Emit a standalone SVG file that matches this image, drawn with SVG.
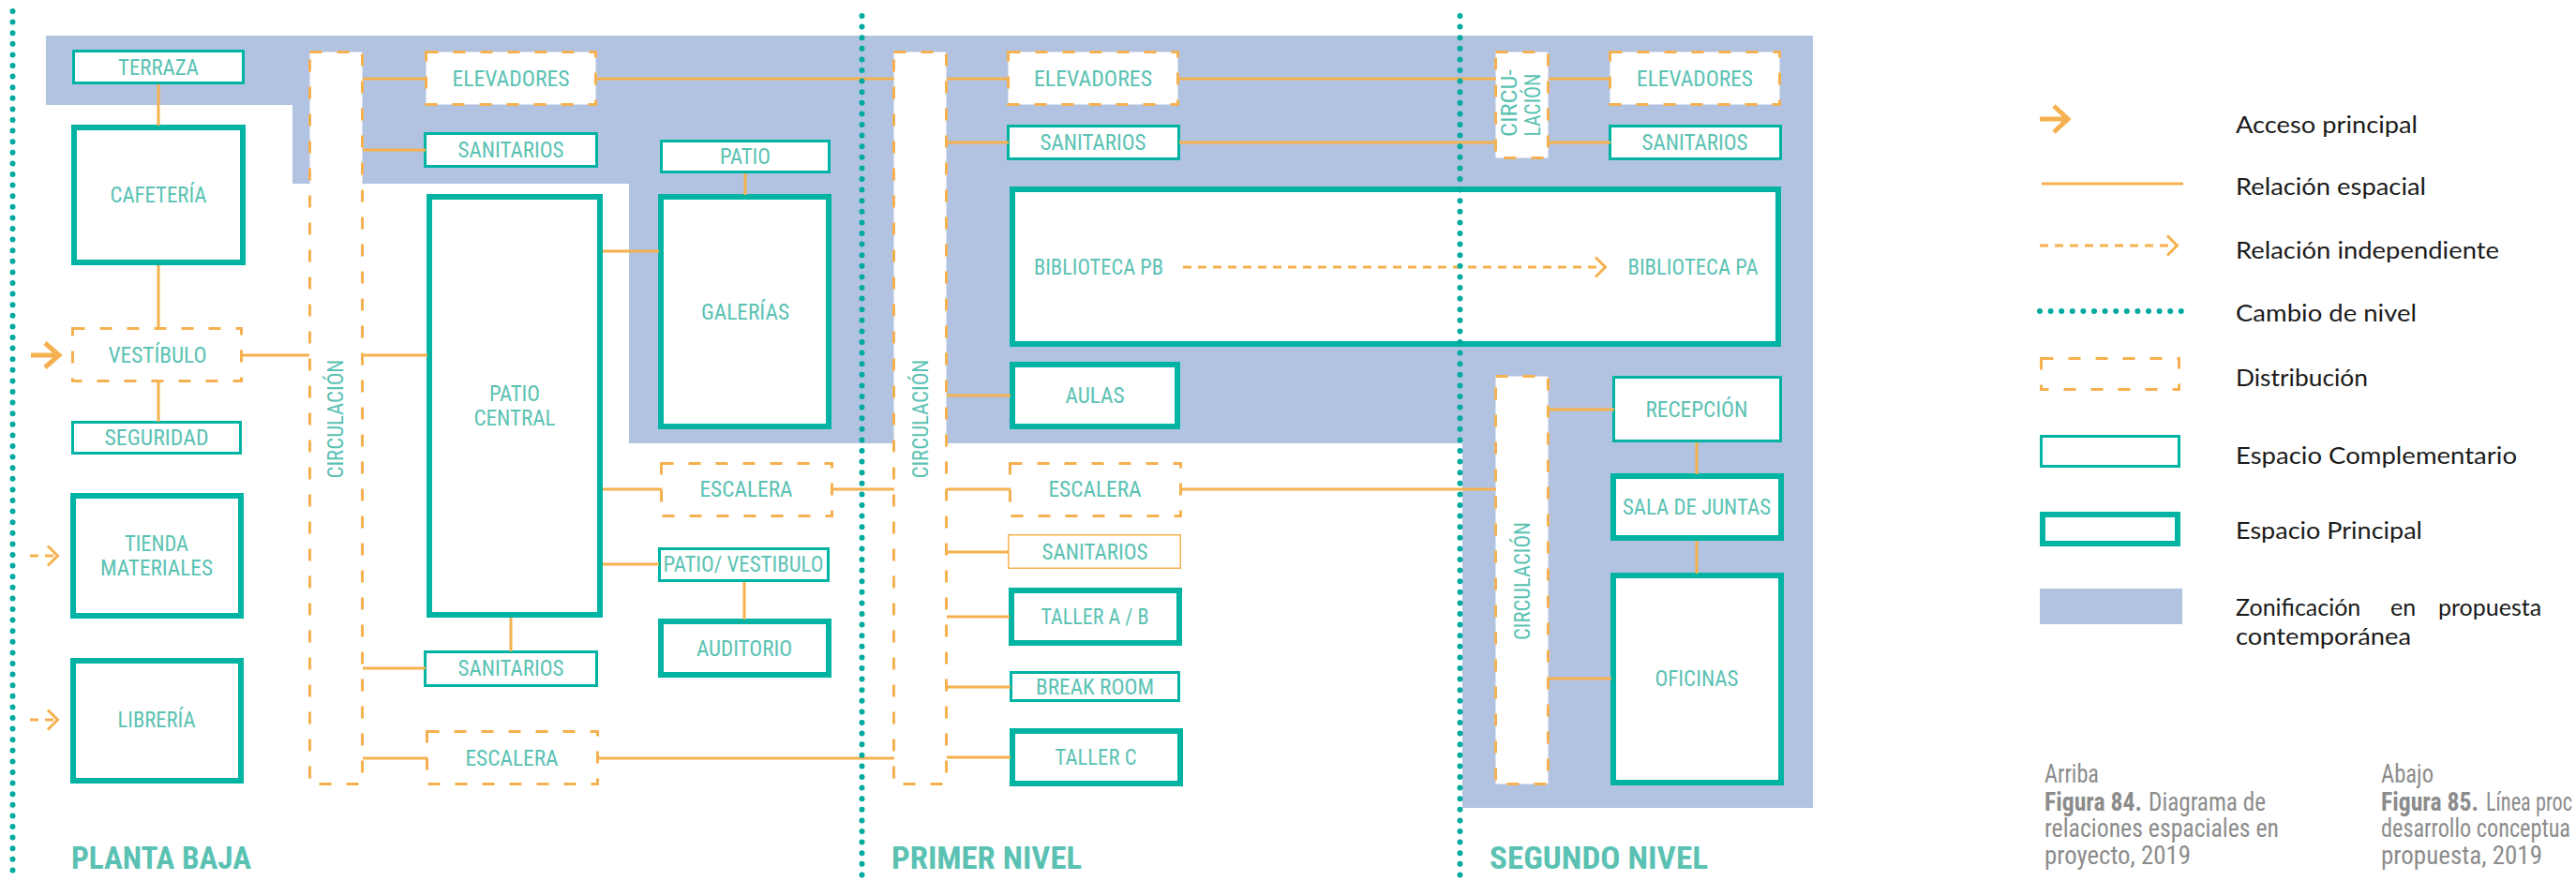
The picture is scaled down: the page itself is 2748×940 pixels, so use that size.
<svg xmlns="http://www.w3.org/2000/svg" width="2748" height="940" viewBox="0 0 2748 940">
<style>
.zone{fill:#b2c3e1}
.box{fill:#fff;stroke:#00b3a3;stroke-width:3}
.main{fill:#fff;stroke:#00b3a3;stroke-width:6}
.obox{fill:#fff;stroke:#f5b14f;stroke-width:1.5}
.dist{fill:#fff;stroke:#f5b14f;stroke-width:3;stroke-dasharray:13 16}
.lbl{font-family:"Roboto Condensed",Roboto,"Liberation Sans",sans-serif;font-size:24px;fill:#5bc2b3;text-anchor:middle}
.ttl{font-family:"Roboto Condensed",Roboto,"Liberation Sans",sans-serif;font-size:33px;font-weight:700;fill:#5bc2b3}
.rel{stroke:#f5b14f;stroke-width:3;fill:none}
.ind{stroke:#f5b14f;stroke-width:3;fill:none;stroke-dasharray:9 7}
.acc{stroke:#f5b14f;stroke-width:5;fill:none}
.lvl{stroke:#00aa9e;stroke-width:6;stroke-linecap:round;stroke-dasharray:0 11.6;fill:none}
.leg{font-family:Lato,"Open Sans","Liberation Sans",sans-serif;font-size:25px;fill:#1a1a1a}
.cap{font-family:"Roboto Condensed",Roboto,"Liberation Sans",sans-serif;font-size:27px;fill:#8c8c8c}
.capb{font-family:"Roboto Condensed",Roboto,"Liberation Sans",sans-serif;font-size:27px;font-weight:700;fill:#8c8c8c}
</style>
<defs>
<marker id="chev" markerUnits="userSpaceOnUse" markerWidth="16" markerHeight="24" refX="13" refY="12" orient="auto">
<path d="M2,1.5 L12.5,12 L2,22.5" fill="none" stroke="#f5b14f" stroke-width="3"/>
</marker>
</defs>

<polygon id="zonificacion" class="zone" points="49,38 1934,38 1934,862 1560,862 1560,473 671,473 671,196 312,196 312,112 49,112"/>

<g id="planta-baja">
<g id="terraza"><rect class="box" x="78.5" y="54.5" width="181" height="34"/><text class="lbl" x="169" y="80" textLength="86" lengthAdjust="spacingAndGlyphs">TERRAZA</text></g>
<g id="cafeteria"><rect class="main" x="79" y="136" width="180" height="144"/><text class="lbl" x="169" y="216" textLength="103" lengthAdjust="spacingAndGlyphs">CAFETERÍA</text></g>
<g id="vestibulo"><rect class="dist" x="77.5" y="350.5" width="180" height="56"/><text class="lbl" x="168" y="387" textLength="105" lengthAdjust="spacingAndGlyphs">VESTÍBULO</text></g>
<g id="seguridad"><rect class="box" x="77.5" y="450.5" width="179" height="33"/><text class="lbl" x="167" y="475" textLength="111" lengthAdjust="spacingAndGlyphs">SEGURIDAD</text></g>
<g id="tienda"><rect class="main" x="78" y="529" width="179" height="128"/><text class="lbl" x="167" y="588" textLength="68" lengthAdjust="spacingAndGlyphs">TIENDA</text><text class="lbl" x="167" y="614" textLength="120" lengthAdjust="spacingAndGlyphs">MATERIALES</text></g>
<g id="libreria"><rect class="main" x="78" y="705" width="179" height="128"/><text class="lbl" x="167" y="776" textLength="83" lengthAdjust="spacingAndGlyphs">LIBRERÍA</text></g>
<g id="circulacion-pb"><rect class="dist" x="330.5" y="55.5" width="56" height="781"/><text class="lbl" transform="translate(366,447) rotate(-90)" textLength="127" lengthAdjust="spacingAndGlyphs">CIRCULACIÓN</text></g>
<g id="elevadores-pb"><rect class="dist" x="454.5" y="55.5" width="181" height="56"/><text class="lbl" x="545" y="92" textLength="125" lengthAdjust="spacingAndGlyphs">ELEVADORES</text></g>
<g id="sanitarios-pb1"><rect class="box" x="453.5" y="142.5" width="183" height="35"/><text class="lbl" x="545" y="168" textLength="113" lengthAdjust="spacingAndGlyphs">SANITARIOS</text></g>
<g id="patio-central"><rect class="main" x="458" y="210" width="182" height="446"/><text class="lbl" x="549" y="428" textLength="54" lengthAdjust="spacingAndGlyphs">PATIO</text><text class="lbl" x="549" y="454" textLength="87" lengthAdjust="spacingAndGlyphs">CENTRAL</text></g>
<g id="sanitarios-pb2"><rect class="box" x="453.5" y="695.5" width="183" height="36"/><text class="lbl" x="545" y="721" textLength="113" lengthAdjust="spacingAndGlyphs">SANITARIOS</text></g>
<g id="escalera-pb"><rect class="dist" x="455.5" y="780.5" width="182" height="56"/><text class="lbl" x="546" y="817" textLength="99" lengthAdjust="spacingAndGlyphs">ESCALERA</text></g>
<g id="patio"><rect class="box" x="705.5" y="150.5" width="179" height="33"/><text class="lbl" x="795" y="175" textLength="54" lengthAdjust="spacingAndGlyphs">PATIO</text></g>
<g id="galerias"><rect class="main" x="705" y="210" width="179" height="245"/><text class="lbl" x="795" y="341" textLength="94" lengthAdjust="spacingAndGlyphs">GALERÍAS</text></g>
<g id="escalera-pb2"><rect class="dist" x="705.5" y="494.5" width="182" height="56"/><text class="lbl" x="796" y="530" textLength="99" lengthAdjust="spacingAndGlyphs">ESCALERA</text></g>
<g id="patio-vestibulo"><rect class="box" x="703.5" y="585.5" width="180" height="34"/><text class="lbl" x="793" y="610" textLength="171" lengthAdjust="spacingAndGlyphs">PATIO/ VESTIBULO</text></g>
<g id="auditorio"><rect class="main" x="705" y="663" width="179" height="57"/><text class="lbl" x="794" y="700" textLength="102" lengthAdjust="spacingAndGlyphs">AUDITORIO</text></g>
</g>

<g id="primer-nivel">
<g id="circulacion-pn"><rect class="dist" x="953.5" y="55.5" width="56" height="781"/><text class="lbl" transform="translate(990,447) rotate(-90)" textLength="127" lengthAdjust="spacingAndGlyphs">CIRCULACIÓN</text></g>
<g id="elevadores-pn"><rect class="dist" x="1075.5" y="55.5" width="181" height="56"/><text class="lbl" x="1166" y="92" textLength="126" lengthAdjust="spacingAndGlyphs">ELEVADORES</text></g>
<g id="sanitarios-pn1"><rect class="box" x="1075.5" y="134.5" width="182" height="35"/><text class="lbl" x="1166" y="160" textLength="113" lengthAdjust="spacingAndGlyphs">SANITARIOS</text></g>
<g id="biblioteca"><rect class="main" x="1080" y="202" width="817" height="165"/><text class="lbl" x="1172" y="293" textLength="138" lengthAdjust="spacingAndGlyphs">BIBLIOTECA PB</text><text class="lbl" x="1806" y="293" textLength="139" lengthAdjust="spacingAndGlyphs">BIBLIOTECA PA</text></g>
<g id="aulas"><rect class="main" x="1080" y="389" width="176" height="66"/><text class="lbl" x="1168" y="430" textLength="63" lengthAdjust="spacingAndGlyphs">AULAS</text></g>
<g id="escalera-pn"><rect class="dist" x="1077.5" y="494.5" width="182" height="56"/><text class="lbl" x="1168" y="530" textLength="99" lengthAdjust="spacingAndGlyphs">ESCALERA</text></g>
<g id="sanitarios-pn2"><rect class="obox" x="1075.75" y="570.75" width="183.5" height="35.5"/><text class="lbl" x="1168" y="597" textLength="113" lengthAdjust="spacingAndGlyphs">SANITARIOS</text></g>
<g id="taller-ab"><rect class="main" x="1079" y="630" width="179" height="56"/><text class="lbl" x="1168" y="666" textLength="115" lengthAdjust="spacingAndGlyphs">TALLER A / B</text></g>
<g id="break-room"><rect class="box" x="1078.5" y="717.5" width="179" height="30"/><text class="lbl" x="1168" y="741" textLength="126" lengthAdjust="spacingAndGlyphs">BREAK ROOM</text></g>
<g id="taller-c"><rect class="main" x="1080" y="780" width="179" height="56"/><text class="lbl" x="1169" y="816" textLength="87" lengthAdjust="spacingAndGlyphs">TALLER C</text></g>
</g>

<g id="segundo-nivel">
<g id="circulacion-sn1"><rect class="dist" x="1595.5" y="55.5" width="56" height="113"/><text class="lbl" transform="translate(1618,110) rotate(-90)" textLength="72" lengthAdjust="spacingAndGlyphs">CIRCU-</text><text class="lbl" transform="translate(1643,112) rotate(-90)" textLength="67" lengthAdjust="spacingAndGlyphs">LACIÓN</text></g>
<g id="elevadores-sn"><rect class="dist" x="1717.5" y="55.5" width="181" height="56"/><text class="lbl" x="1808" y="92" textLength="124" lengthAdjust="spacingAndGlyphs">ELEVADORES</text></g>
<g id="sanitarios-sn"><rect class="box" x="1717.5" y="134.5" width="182" height="35"/><text class="lbl" x="1808" y="160" textLength="113" lengthAdjust="spacingAndGlyphs">SANITARIOS</text></g>
<g id="circulacion-sn2"><rect class="dist" x="1595.5" y="401.5" width="56" height="435"/><text class="lbl" transform="translate(1632,620) rotate(-90)" textLength="126" lengthAdjust="spacingAndGlyphs">CIRCULACIÓN</text></g>
<g id="recepcion"><rect class="box" x="1721.5" y="402.5" width="178" height="68"/><text class="lbl" x="1810" y="445" textLength="109" lengthAdjust="spacingAndGlyphs">RECEPCIÓN</text></g>
<g id="sala-juntas"><rect class="main" x="1721" y="508" width="179" height="66"/><text class="lbl" x="1810" y="549" textLength="158" lengthAdjust="spacingAndGlyphs">SALA DE JUNTAS</text></g>
<g id="oficinas"><rect class="main" x="1721" y="614" width="179" height="221"/><text class="lbl" x="1810" y="732" textLength="89" lengthAdjust="spacingAndGlyphs">OFICINAS</text></g>
</g>

<g id="connectors">
<path class="rel" d="M169,90V134 M169,283V350 M169,408V450 M259,379H330 M387,379H456"/>
<path class="rel" d="M387,84H455 M636,84H954 M387,160H454 M643,268H703 M795,185V208 M643,522H706 M888,522H954 M643,602H703 M794,621V661 M545,659V695 M387,713H454 M387,809H456 M638,809H954"/>
<path class="rel" d="M1010,84H1076 M1257,84H1596 M1010,152H1076 M1258,152H1596 M1010,422H1078 M1010,522H1078 M1260,522H1596 M1010,589H1076 M1010,658H1077 M1010,733H1078 M1010,808H1078"/>
<path class="rel" d="M1652,84H1718 M1652,152H1718 M1652,437H1722 M1810,472V506 M1810,577V612 M1652,724H1719"/>
<path class="ind" d="M1262,285H1713" marker-end="url(#chev)"/>
<path class="acc" d="M33,379H61 M48,366L63,379L48,392"/>
<path class="ind" d="M32,593H62" marker-end="url(#chev)"/>
<path class="ind" d="M32,768H62" marker-end="url(#chev)"/>
</g>

<g id="niveles">
<path class="lvl" d="M13.5,12V940 M919.5,17V940 M1557.5,17V940"/>
<text class="ttl" x="76" y="927" textLength="192" lengthAdjust="spacingAndGlyphs">PLANTA BAJA</text>
<text class="ttl" x="951" y="927" textLength="203" lengthAdjust="spacingAndGlyphs">PRIMER NIVEL</text>
<text class="ttl" x="1589" y="927" textLength="233" lengthAdjust="spacingAndGlyphs">SEGUNDO NIVEL</text>
</g>

<g id="leyenda">
<path class="acc" d="M2176,127H2205 M2191,113L2206,127L2191,141"/>
<text class="leg" x="2385" y="142" textLength="194" lengthAdjust="spacingAndGlyphs">Acceso principal</text>
<path class="rel" d="M2178,196H2329"/>
<text class="leg" x="2385" y="208" textLength="203" lengthAdjust="spacingAndGlyphs">Relación espacial</text>
<path class="ind" d="M2176,262H2323" marker-end="url(#chev)"/>
<text class="leg" x="2385" y="276" textLength="281" lengthAdjust="spacingAndGlyphs">Relación independiente</text>
<path class="lvl" d="M2176,332H2328"/>
<text class="leg" x="2385" y="343" textLength="193" lengthAdjust="spacingAndGlyphs">Cambio de nivel</text>
<rect class="dist" x="2177.5" y="382.5" width="147" height="33"/>
<text class="leg" x="2385" y="412" textLength="141" lengthAdjust="spacingAndGlyphs">Distribución</text>
<rect class="box" x="2177.5" y="465.5" width="147" height="32"/>
<text class="leg" x="2385" y="495" textLength="300" lengthAdjust="spacingAndGlyphs">Espacio Complementario</text>
<rect class="main" x="2179" y="549" width="144" height="31"/>
<text class="leg" x="2385" y="575" textLength="199" lengthAdjust="spacingAndGlyphs">Espacio Principal</text>
<rect class="zone" x="2176" y="628" width="152" height="38"/>
<text class="leg" y="657"><tspan x="2385">Zonificación </tspan><tspan x="2550">en </tspan><tspan x="2601">propuesta</tspan></text>
<text class="leg" x="2385" y="688" textLength="187" lengthAdjust="spacingAndGlyphs">contemporánea</text>
</g>

<g id="pie">
<text class="cap" x="2181" y="835" textLength="58" lengthAdjust="spacingAndGlyphs">Arriba</text>
<text class="capb" x="2181" y="865" textLength="104" lengthAdjust="spacingAndGlyphs">Figura 84.</text>
<text class="cap" x="2292" y="865" textLength="125" lengthAdjust="spacingAndGlyphs">Diagrama de</text>
<text class="cap" x="2181" y="893" textLength="250" lengthAdjust="spacingAndGlyphs">relaciones espaciales en</text>
<text class="cap" x="2181" y="922" textLength="156" lengthAdjust="spacingAndGlyphs">proyecto, 2019</text>
<text class="cap" x="2540" y="835" textLength="56" lengthAdjust="spacingAndGlyphs">Abajo</text>
<text class="capb" x="2540" y="865" textLength="104" lengthAdjust="spacingAndGlyphs">Figura 85.</text>
<text class="cap" x="2652" y="865" textLength="92" lengthAdjust="spacingAndGlyphs">Línea proc</text>
<text class="cap" x="2540" y="893" textLength="202" lengthAdjust="spacingAndGlyphs">desarrollo conceptua</text>
<text class="cap" x="2540" y="922" textLength="172" lengthAdjust="spacingAndGlyphs">propuesta, 2019</text>
</g>
</svg>
